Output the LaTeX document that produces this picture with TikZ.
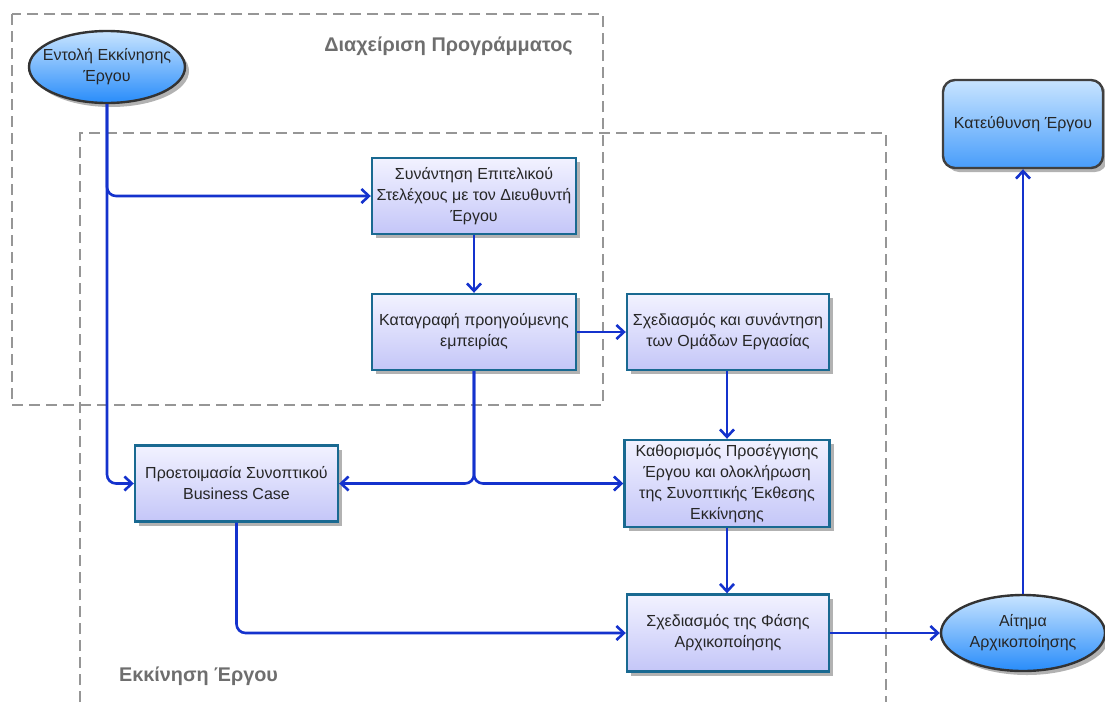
\documentclass[tikz,border=0pt]{standalone}
\usepackage{fontspec}
\setmainfont{Liberation Sans}
\usetikzlibrary{shapes.geometric,shadows,arrows.meta}
\definecolor{flow}{RGB}{20,50,205}
\definecolor{boxedge}{RGB}{25,105,145}
\definecolor{boxtop}{RGB}{242,242,255}
\definecolor{boxbot}{RGB}{196,198,248}
\definecolor{evtop}{RGB}{200,228,255}
\definecolor{evbot}{RGB}{40,140,250}
\definecolor{zone}{RGB}{150,150,150}
\definecolor{zonetext}{RGB}{110,110,110}
\tikzset{
  task/.style={rectangle, draw=boxedge, line width=2.4pt, top color=boxtop, bottom color=boxbot,
    minimum width=204pt, minimum height=76pt, align=center, inner sep=1pt,
    font=\fontsize{16}{21}\selectfont, text=black!85,
    drop shadow={shadow xshift=4pt, shadow yshift=-4pt, fill=black!30, opacity=1}},
  event/.style={ellipse, draw=black!80, line width=2.4pt, top color=evtop, bottom color=evbot,
    minimum width=156pt, minimum height=72pt, align=center, inner sep=0pt,
    font=\fontsize{16}{21}\selectfont, text=black!85,
    drop shadow={shadow xshift=4pt, shadow yshift=-4pt, fill=black!30, opacity=1}},
  goal/.style={rectangle, rounded corners=12pt, draw=black!75, line width=2.4pt,
    top color=evtop, bottom color=evbot!85, minimum width=160pt, minimum height=88pt,
    align=center, font=\fontsize{16}{21}\selectfont, text=black!85,
    drop shadow={shadow xshift=4pt, shadow yshift=-4pt, fill=black!30, opacity=1}},
  zonebox/.style={draw=zone, line width=2.8pt, dash pattern=on 11pt off 6pt},
  zonelabel/.style={font=\fontsize{19.8}{22}\selectfont\bfseries, text=zonetext},
  link/.style={draw=flow, line width=2.6pt, rounded corners=9pt,
    -{Straight Barb[length=7.5pt, width=14pt, line width=2.6pt]}},
}
\begin{document}
\begin{tikzpicture}[x=1pt, y=-1pt]
  \useasboundingbox (0,0) rectangle (1105,702);
  % swim-lane style zones
  \draw[zonebox] (12,14) rectangle (603,405);
  \draw[zonebox] (80,702) -- (80,133) -- (886,133) -- (886,702);
  \node[zonelabel] (zprog) at (448.5,46) {Διαχείριση Προγράμματος};
  \node[zonelabel] (zproj) at (198.5,676) {Εκκίνηση Έργου};

  % events and goal
  \node[event, inner xsep=-14pt] (start) at (107,67) {Εντολή Εκκίνησης\\Έργου};
  \node[event, minimum width=164pt, minimum height=76pt, inner xsep=-4pt] (req) at (1023,633) {Αίτημα\\Αρχικοποίησης};
  \node[goal] (dir) at (1023,124) {Κατεύθυνση Έργου};

  % tasks
  \node[task] (meet) at (474,196) {Συνάντηση Επιτελικού\\Στελέχους με τον Διευθυντή\\Έργου};
  \node[task] (log) at (474,332) {Καταγραφή προηγούμενης\\εμπειρίας};
  \node[task, minimum width=202pt] (teams) at (728,332) {Σχεδιασμός και συνάντηση\\των Ομάδων Εργασίας};
  \node[task, minimum width=205pt, minimum height=87pt] (appr) at (727,483.5) {Καθορισμός Προσέγγισης\\Έργου και ολοκλήρωση\\της Συνοπτικής Έκθεσης\\Εκκίνησης};
  \node[task, minimum width=203pt] (bcase) at (236.5,483.5) {Προετοιμασία Συνοπτικού\\Business Case};
  \node[task, minimum width=202pt, minimum height=77pt] (plan) at (728,633) {Σχεδιασμός της Φάσης\\Αρχικοποίησης};

  % flow
  \draw[link] (start.south) |- (meet.west);
  \draw[link] (start.south) |- (bcase.west);
  \draw[link] (meet.south) -- (log.north);
  \draw[link] (log.east) -- (teams.west);
  \draw[link] (log.south) |- (bcase.east);
  \draw[link] (log.south) |- (appr.west);
  \draw[link] (teams.south -| appr.north) -- (appr.north);
  \draw[link] (appr.south) -- (appr.south |- plan.north);
  \draw[link] (bcase.south) |- (plan.west);
  \draw[link] (plan.east) -- (req.west);
  \draw[link] (req.north) -- (dir.south);
\end{tikzpicture}
\end{document}
